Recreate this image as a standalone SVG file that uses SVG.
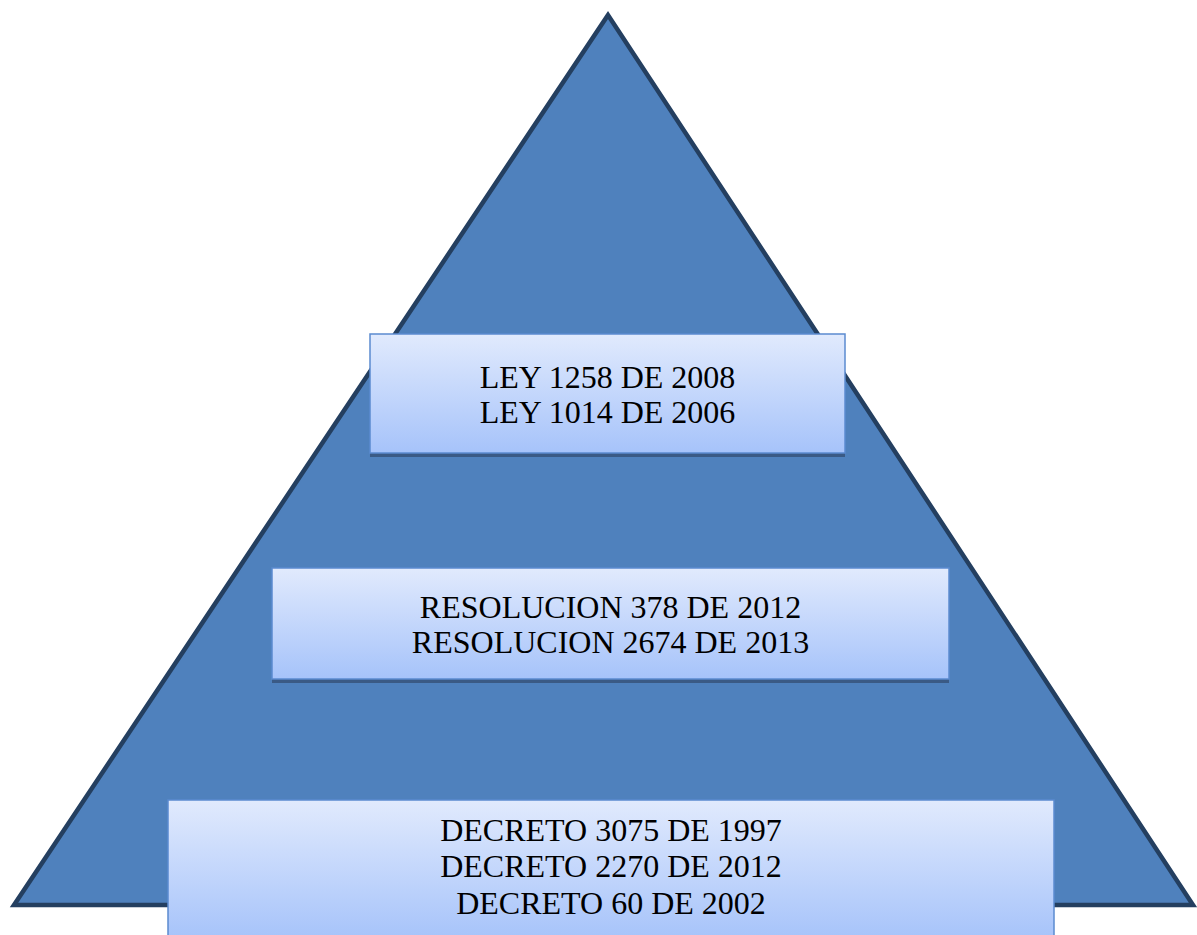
<svg xmlns="http://www.w3.org/2000/svg" width="1197" height="935" viewBox="0 0 1197 935">
<defs>
<linearGradient id="g" x1="0" y1="0" x2="0" y2="1">
<stop offset="0" stop-color="#E1EAFD"/>
<stop offset="1" stop-color="#A6C3FA"/>
</linearGradient>
<style>
.box{fill:url(#g);stroke:#5B8BD0;stroke-width:1.5}
.sh{fill:#3A5A85}
.t{font-family:"Liberation Serif","Times New Roman",serif;font-size:32px;fill:#000;text-anchor:middle}
</style>
</defs>
<rect width="1197" height="935" fill="#fff"/>
<g id="pyramid">
<polygon points="608,15 14,905 1193,905" fill="#4F81BD" stroke="#243F60" stroke-width="4.5" stroke-linejoin="miter"/>
</g>
<g id="connectors"></g>
<g id="box1">
<rect class="sh" x="370" y="337" width="475" height="120"/>
<rect class="box" x="370" y="334" width="475" height="119"/>
<text class="t" x="607.5" y="388">LEY 1258 DE 2008</text>
<text class="t" x="607.5" y="423">LEY 1014 DE 2006</text>
</g>
<g id="box2">
<rect class="sh" x="272" y="571" width="677" height="112"/>
<rect class="box" x="272" y="568" width="677" height="111"/>
<text class="t" x="610.5" y="618">RESOLUCION 378 DE 2012</text>
<text class="t" x="610.5" y="653">RESOLUCION 2674 DE 2013</text>
</g>
<g id="box3">
<rect class="box" x="168" y="800" width="886" height="140"/>
<text class="t" x="611" y="841">DECRETO 3075 DE 1997</text>
<text class="t" x="611" y="877">DECRETO 2270 DE 2012</text>
<text class="t" x="611" y="914">DECRETO 60 DE 2002</text>
</g>
</svg>
